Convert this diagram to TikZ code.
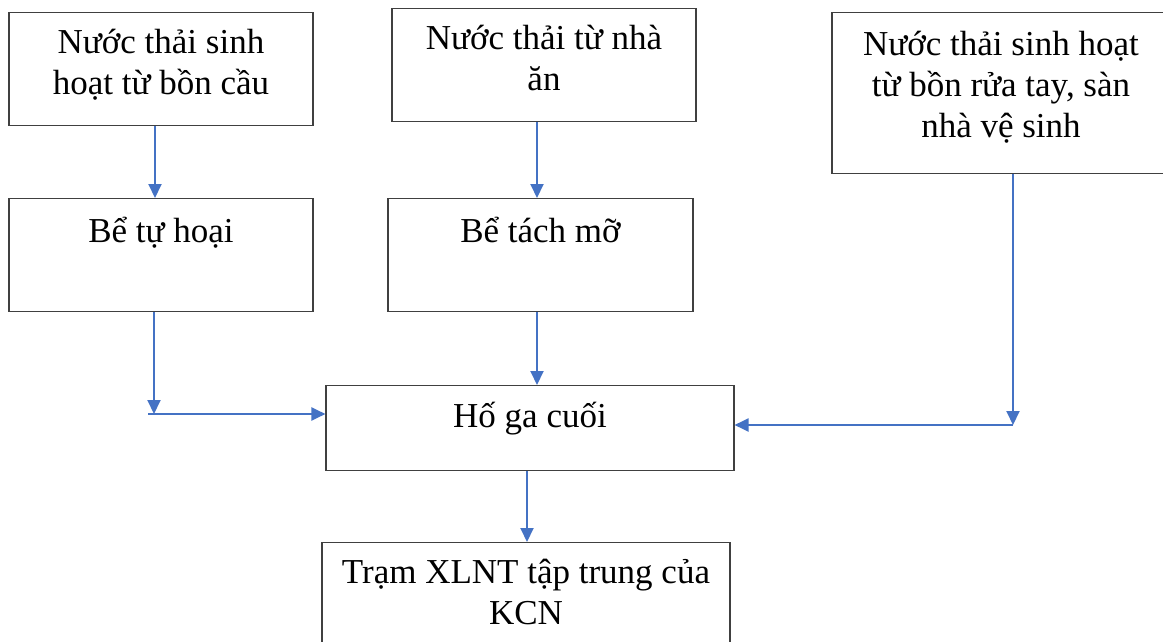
\documentclass[tikz,border=0pt]{standalone}
\usepackage{fontspec}
\setmainfont{Liberation Serif}
\usetikzlibrary{arrows.meta}
\definecolor{flowblue}{HTML}{4472C4}
\begin{document}
\begin{tikzpicture}[x=1pt,y=-1pt,
  box/.style={draw=black!75, line width=1.1pt, inner sep=0pt, align=flush center,
    anchor=north, font=\fontsize{35}{41}\selectfont},
  flow/.style={draw=flowblue, line width=2pt, -{Triangle[width=13pt,length=14pt]}}]
\useasboundingbox (0,0) rectangle (1163,642);
\clip (0,0) rectangle (1163,642);

% sources
\node[box, text width=304pt, text height=41pt, text depth=72pt] (b1) at (161,12)
  {Nước thải sinh\\hoạt từ bồn cầu};
\node[box, text width=304pt, text height=41pt, text depth=72pt] (b2) at (544,8)
  {Nước thải từ nhà\\ăn};
\node[box, text width=338pt, text height=43pt, text depth=118pt] (b3) at (1001,12)
  {Nước thải sinh hoạt\\từ bồn rửa tay, sàn\\nhà vệ sinh};

% pre-treatment
\node[box, text width=304pt, text height=44pt, text depth=69pt] (b4) at (161,198)
  {Bể tự hoại};
\node[box, text width=305pt, text height=44pt, text depth=69pt] (b5) at (540.5,198)
  {Bể tách mỡ};

% collection and treatment
\node[box, text width=408pt, text height=42pt, text depth=43pt] (b6) at (530,385)
  {Hố ga cuối};
\node[box, text width=408pt, text height=41pt, text depth=69pt] (b7) at (526,542)
  {Trạm XLNT tập trung của\\KCN};

% pipe junctions
\coordinate (c1) at (154,414);
\coordinate (c2) at (1013,425);

\draw[flow] ([xshift=-6pt]b1.south) -- ([xshift=-6pt]b1.south |- b4.north);
\draw[flow] ([xshift=-7pt]b2.south) -- ([xshift=-7pt]b2.south |- b5.north);
\draw[flow] ([xshift=-7pt]b4.south) -- (c1);
\draw[flow] ([xshift=-6pt]c1) -- (c1 -| b6.west);
\draw[flow] ([xshift=-3.5pt]b5.south) -- ([xshift=-3.5pt]b5.south |- b6.north);
\draw[flow] (b3.south -| c2) -- (c2);
\draw[flow] (c2) -- (c2 -| b6.east);
\draw[flow] ([xshift=-3pt]b6.south) -- ([xshift=-3pt]b6.south |- b7.north);
\end{tikzpicture}
\end{document}
